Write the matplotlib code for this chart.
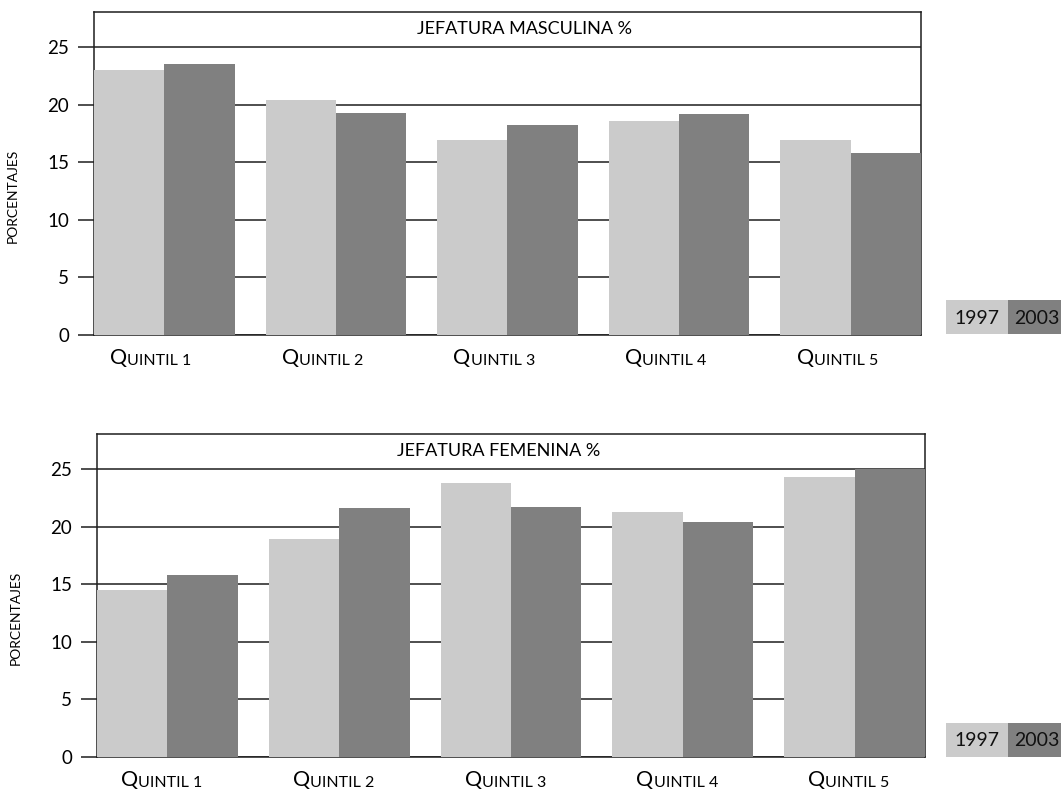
import numpy as np
import matplotlib
matplotlib.use("Agg")
import matplotlib.pyplot as plt
from matplotlib.patches import Rectangle
from matplotlib.transforms import blended_transform_factory

# data: household headship by income quintile (%)
quintiles = ["1", "2", "3", "4", "5"]
years = ["1997", "2003"]
men_1997 = [23.0, 20.4, 16.9, 18.6, 16.9]
men_2003 = [23.5, 19.3, 18.2, 19.2, 15.8]
women_1997 = [14.5, 18.9, 23.8, 21.3, 24.3]
women_2003 = [15.8, 21.6, 21.7, 20.4, 25.0]
yticks = [0, 5, 10, 15, 20, 25]

LIGHT = "#cbcbcb"
DARK = "#808080"
LINE = "#1e1e1e"
W, H = 1061, 791

plt.rcParams["font.family"] = ["Lato", "DejaVu Sans"]

fig = plt.figure(figsize=(W / 100, H / 100), dpi=100)


def px_axes(x0, y0, x1, y1):
    # axes from pixel box (top-left origin)
    return fig.add_axes([x0 / W, 1 - y1 / H, (x1 - x0) / W, (y1 - y0) / H])


def legend_box(y_top):
    x = 946
    for yr, col in zip(years, [LIGHT, DARK]):
        w = 62 if yr == "1997" else 58
        fig.patches.append(Rectangle((x / W, 1 - (y_top + 34) / H), w / W, 34 / H,
                                     transform=fig.transFigure, facecolor=col,
                                     edgecolor="none"))
        fig.text((x + w / 2) / W, 1 - (y_top + 18) / H, yr, ha="center", va="center",
                 fontsize=14, color="#111111")
        x += w


def draw(ax, v97, v03, title, title_x, lab_shift):
    x = np.arange(len(quintiles))
    bw = 0.41
    ax.bar(x - bw / 2, v97, bw, color=LIGHT, zorder=2)
    ax.bar(x + bw / 2, v03, bw, color=DARK, zorder=2)
    ax.set_xlim(-bw, len(quintiles) - 1 + bw)
    ax.set_ylim(0, 28.05)

    ax.set_yticks(yticks)
    ax.set_yticklabels([str(t) for t in yticks], fontsize=13.5)
    ax.tick_params(axis="y", length=11.5, width=1.1, color=LINE, pad=6.5)
    ax.set_xticks([])
    ax.yaxis.grid(True, color=LINE, lw=1.1)
    ax.set_axisbelow(True)
    for s in ax.spines.values():
        s.set_color(LINE)
        s.set_linewidth(1.1)
        s.set_zorder(0.6)

    ax.text(title_x, 26.55, title, transform=blended_transform_factory(ax.transAxes, ax.transData),
            ha="center", va="center", fontsize=13)

    ax.set_ylabel("PORCENTAJES", fontsize=10)
    ax.yaxis.set_label_coords(-0.091, 0.43)

    # small caps category labels under each group
    tr = blended_transform_factory(ax.transData, ax.transAxes)
    for i, q in enumerate(quintiles):
        qt = ax.text(i + lab_shift - 0.23, -0.093, "Q", transform=tr, fontsize=15.5,
                     ha="left", va="baseline")
        ax.annotate("UINTIL " + q, xy=(1, 0), xycoords=qt, fontsize=11.5,
                    ha="left", va="bottom")


ax1 = px_axes(94, 12, 921, 334.5)
draw(ax1, men_1997, men_2003, "JEFATURA MASCULINA %", 0.52, -0.085)
legend_box(300)

ax2 = px_axes(97, 434, 925, 756.5)
draw(ax2, women_1997, women_2003, "JEFATURA FEMENINA %", 0.485, -0.04)
legend_box(723)

fig.savefig("out.png", dpi=100)
